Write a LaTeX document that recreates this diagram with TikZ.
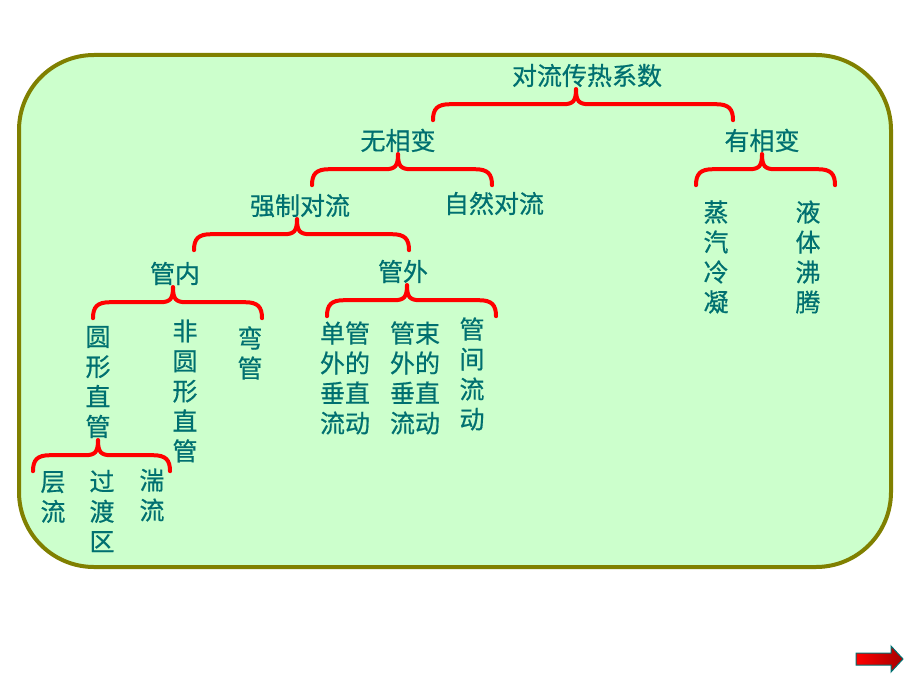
\documentclass[tikz,border=0pt]{standalone}
\usepackage{fontspec}
\newfontfamily\cjk[FakeBold=0.6]{Noto Sans CJK SC}

\definecolor{txtteal}{RGB}{0,112,112}
\definecolor{boxfill}{RGB}{204,255,204}
\definecolor{boxline}{RGB}{128,128,0}

\tikzset{
  lbl/.style={font=\cjk\fontsize{25}{30}\selectfont, text=txtteal, inner sep=0pt, text height=20pt, text depth=4pt},
  col/.style={font=\cjk\fontsize{25}{30}\selectfont, text=txtteal, inner sep=0pt, align=center},
  bracket/.style={draw=red, line width=4pt, line cap=round},
}

% curly bracket hanging from a cusp point, #2 / #3 = reach to the left / right
\newcommand{\clbrace}[3]{%
  \draw[bracket] (#1) .. controls +(0,12) and +(10,0) .. ++(-13,15) -- ++({-(#2-30)},0) .. controls +(-13,0) and +(0,-11) .. ++(-17,16);
  \draw[bracket] (#1) .. controls +(0,12) and +(-10,0) .. ++(13,15) -- ++({#3-30},0) .. controls +(13,0) and +(0,-11) .. ++(17,16);
}

\begin{document}
\begin{tikzpicture}[x=1pt,y=-1pt]
   \useasboundingbox (0,0) rectangle (920,690);
   \draw[boxline, fill=boxfill, line width=4pt, rounded corners=75pt] (19,55) rectangle (891,567);

   \node[lbl] (coef)     at (587,77)  {对流传热系数} ; %
   \node[lbl] (nophase)  at (398,142) {无相变} ; %
   \node[lbl] (phase)    at (762,142) {有相变} ; %
   \node[lbl] (forced)   at (300,207) {强制对流} ; %
   \node[lbl] (natural)  at (494,205) {自然对流} ; %
   \node[col] (condense) at (716,257) {蒸\\汽\\冷\\凝} ; %
   \node[col] (boil)     at (808,257) {液\\体\\沸\\腾} ; %
   \node[lbl] (inside)   at (175,275) {管内} ; %
   \node[lbl] (outside)  at (403,273) {管外} ; %
   \node[col] (round)    at (98,382)  {圆\\形\\直\\管} ; %
   \node[col] (noround)  at (185,391) {非\\圆\\形\\直\\管} ; %
   \node[col] (bend)     at (250,353) {弯\\管} ; %
   \node[col] (single)   at (345,378) {单管\\外的\\垂直\\流动} ; %
   \node[col] (bundle)   at (415,378) {管束\\外的\\垂直\\流动} ; %
   \node[col] (between)  at (472,374) {管\\间\\流\\动} ; %
   \node[col] (laminar)  at (53,497)  {层\\流} ; %
   \node[col] (transit)  at (102,511) {过\\渡\\区} ; %
   \node[col] (turbul)   at (152,495) {湍\\流} ; %

   \clbrace{[xshift=-11pt]coef.south}{143}{157}
   \clbrace{nophase.south}{86}{94}
   \clbrace{phase.south}{66}{73}
   \clbrace{[xshift=-3pt]forced.south}{103}{112}
   \clbrace{[xshift=-2pt]inside.south}{80}{89}
   \clbrace{[xshift=4pt]outside.south}{80}{89}
   \clbrace{[yshift=-2pt]round.south}{65}{72}

   % next-page arrow
   \draw[txtteal, line width=1pt, left color=red, right color=red!65!black]
      (856,653) -- (891,653) -- (891,646) -- (903,659) -- (891,672) -- (891,665) -- (856,665) -- cycle;
\end{tikzpicture}
\end{document}
